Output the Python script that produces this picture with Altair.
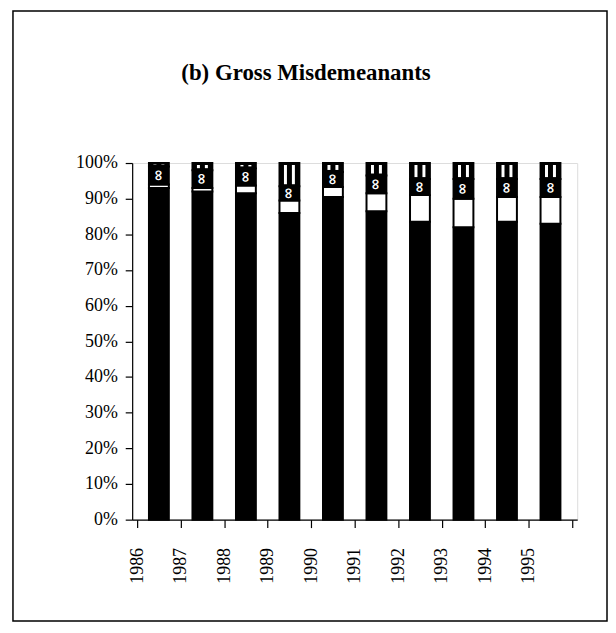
import altair as alt
import pandas as pd

years = [1986, 1987, 1988, 1989, 1990, 1991, 1992, 1993, 1994, 1995]
seg_solid = [93.0, 92.0, 91.5, 86.0, 90.5, 86.5, 83.5, 82.0, 83.5, 83.0]
seg_white = [1.0, 1.0, 2.2, 3.5, 2.8, 5.0, 7.5, 8.0, 7.0, 7.5]
seg_cross = [5.0, 5.0, 4.8, 4.0, 4.2, 5.0, 4.5, 5.5, 5.0, 5.0]
seg_lines = [1.0, 2.0, 1.5, 6.5, 2.5, 3.5, 4.5, 4.5, 4.5, 4.5]
segment_names = ["solid", "white", "cross", "lines"]
y_ticks = [0, 0.1, 0.2, 0.3, 0.4, 0.5, 0.6, 0.7, 0.8, 0.9, 1.0]
x_ticks = [1986, 1987, 1988, 1989, 1990, 1991, 1992, 1993, 1994, 1995, 1996]
title_text = "(b) Gross Misdemeanants"

rows = []
for i, yr in enumerate(years):
    vals = [seg_solid[i], seg_white[i], seg_cross[i], seg_lines[i]]
    tot = sum(vals)
    start = 0.0
    for name, v in zip(segment_names, vals):
        rows.append({"year": yr, "segment": name,
                     "start": start / tot, "end": (start + v) / tot})
        start += v
df = pd.DataFrame(rows)

FONT = "Liberation Serif"
W, H = 448, 359

x_axis = alt.Axis(values=x_ticks, format="d",
                  labelExpr="datum.value >= 1996 ? '' : datum.label",
                  labelAngle=270, labelAlign="right", labelBaseline="middle",
                  labelPadding=20, tickSize=8, grid=False, title=None,
                  labelOverlap=False, labelBound=False, labelFlush=False,
                  labelFont=FONT, labelFontSize=18, labelColor="black",
                  domainColor="black", tickColor="black",
                  domainWidth=1.2, tickWidth=1.2)
y_axis = alt.Axis(values=y_ticks, format=".0%", tickSize=7,
                  labelPadding=8, grid=False, title=None,
                  labelOverlap=False, labelBound=False, labelFlush=False,
                  labelFont=FONT, labelFontSize=18, labelColor="black",
                  domainColor="black", tickColor="black",
                  domainWidth=1.2, tickWidth=1.2)
x_scale = alt.Scale(domain=[1986, 1996], nice=False, zero=False)
y_scale = alt.Scale(domain=[0, 1], nice=False)


def xq(field):
    return alt.X(f"{field}:Q", scale=x_scale, axis=x_axis)


def yq(field):
    return alt.Y(f"{field}:Q", scale=y_scale, axis=y_axis)


base = alt.Chart(df).transform_calculate(xpos="datum.year + 0.5")

bars = base.mark_bar(width=20, stroke="black", strokeWidth=2).encode(
    x=xq("xpos"),
    y=yq("start"),
    y2="end:Q",
    color=alt.Color("segment:N",
                    scale=alt.Scale(domain=segment_names,
                                    range=["black", "white", "black", "black"]),
                    legend=None),
)

cross_df = base.transform_filter("datum.segment == 'cross'").transform_calculate(
    mid="(datum.start + datum.end) / 2")
cross_marks = cross_df.mark_text(text="∞", color="white", angle=90,
                                 fontSize=15, fontWeight="bold", font="DejaVu Sans").encode(
    x=xq("xpos"), y=yq("mid"))

lines_df = base.transform_filter("datum.segment == 'lines'")
line_left = lines_df.mark_bar(width=3, color="white", xOffset=-4,
                              yOffset=-2, y2Offset=2).encode(
    x=xq("xpos"), y=yq("start"), y2="end:Q")
line_right = lines_df.mark_bar(width=3, color="white", xOffset=4,
                               yOffset=-2, y2Offset=2).encode(
    x=xq("xpos"), y=yq("start"), y2="end:Q")

title_mark = alt.Chart(alt.Data(values=[{"t": title_text}])).mark_text(
    font=FONT, fontSize=23, fontWeight="bold", color="black",
    align="center", baseline="middle").encode(
    text="t:N", x=alt.value(175), y=alt.value(-91))

frame = alt.Chart(alt.Data(values=[{}])).mark_rect(
    fill=None, stroke="black", strokeWidth=1.5, clip=False).encode(
    x=alt.value(-120), x2=alt.value(478),
    y=alt.value(-153), y2=alt.value(461))

chart = alt.layer(bars, cross_marks, line_left, line_right, title_mark, frame).properties(
    width=W, height=H,
    autosize=alt.AutoSizeParams(type="none"),
    padding={"left": 125, "top": 154, "right": 31, "bottom": 104},
).configure_view(stroke=None).configure(background="white")

chart.save("out.html", embed_options={"renderer": "svg", "actions": False})
